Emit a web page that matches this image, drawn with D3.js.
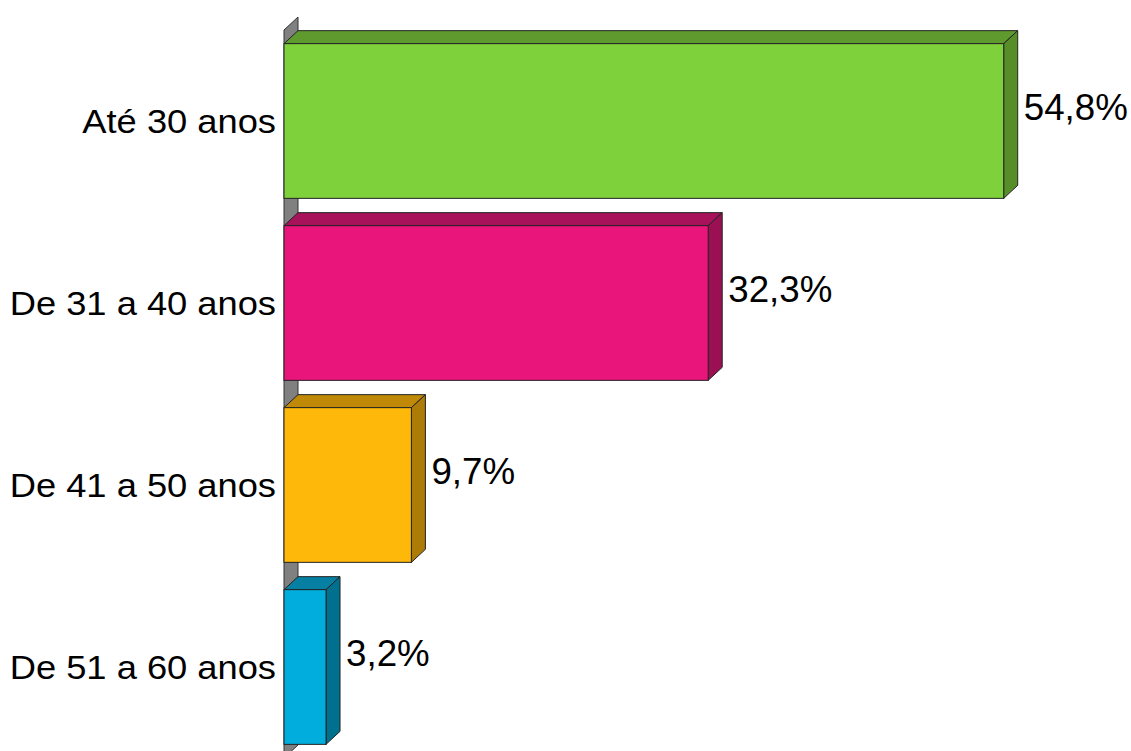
<!DOCTYPE html>
<html>
<head>
<meta charset="utf-8">
<script src="https://cdn.jsdelivr.net/npm/d3@7/dist/d3.min.js"></script>
<style>
html,body{margin:0;padding:0;background:#fff;}
svg{display:block;}
</style>
</head>
<body>
<svg id="chart" width="1131" height="751"></svg>
<script>
const categories = ["Até 30 anos", "De 31 a 40 anos", "De 41 a 50 anos", "De 51 a 60 anos"];
const values = [54.8, 32.3, 9.7, 3.2];
const valueLabels = ["54,8%", "32,3%", "9,7%", "3,2%"];
const frontColors = ["#7FD13B", "#EA157A", "#FEB80A", "#00ADDC"];
const topColors = ["#5F9A2E", "#A8125A", "#C08A08", "#0580A2"];
const sideColors = ["#588E2A", "#9A1053", "#AD7C06", "#00708F"];

const svg = d3.select("#chart");
const dx = 14, dy = 13;

const x = d3.scaleLinear().domain([0, 60]).range([284, 1072]);
const y = d3.scaleBand().domain(categories).range([30, 758]).paddingInner(0.15).paddingOuter(0.075);

const x0 = x(0);
const [yTop, yBot] = y.range();

// side wall
svg.append("polygon")
  .attr("points", [[x0, yTop], [x0 + dx, yTop - dy], [x0 + dx, yBot - dy], [x0, yBot]].map(p => p.join(",")).join(" "))
  .attr("fill", "#808080").attr("stroke", "#333").attr("stroke-width", 1);

const data = categories.map((c, i) => ({c, v: values[i], lab: valueLabels[i], i}));

const g = svg.selectAll("g.bar").data(data).enter().append("g").attr("class", "bar");

const pts = a => a.map(p => p.join(",")).join(" ");

g.append("polygon")
  .attr("points", d => {
    const x1 = x(d.v), y0 = y(d.c);
    return pts([[x0, y0], [x0 + dx, y0 - dy], [x1 + dx, y0 - dy], [x1, y0]]);
  })
  .attr("fill", d => topColors[d.i]).attr("stroke", "#222").attr("stroke-width", 1).attr("stroke-linejoin", "round");

g.append("polygon")
  .attr("points", d => {
    const x1 = x(d.v), y0 = y(d.c), y1 = y0 + y.bandwidth();
    return pts([[x1, y0], [x1 + dx, y0 - dy], [x1 + dx, y1 - dy], [x1, y1]]);
  })
  .attr("fill", d => sideColors[d.i]).attr("stroke", "#222").attr("stroke-width", 1).attr("stroke-linejoin", "round");

g.append("rect")
  .attr("x", x0).attr("y", d => y(d.c))
  .attr("width", d => x(d.v) - x0).attr("height", y.bandwidth())
  .attr("fill", d => frontColors[d.i]).attr("stroke", "#222").attr("stroke-width", 1);

g.append("text")
  .attr("transform", d => `translate(${x(d.v) + dx + 6},${y(d.c) + y.bandwidth() / 2 - dy}) scale(1.02,1)`)
  .attr("dy", "0.34em")
  .attr("font-family", "'Liberation Sans', Arial, sans-serif")
  .attr("font-size", 36)
  .attr("fill", "#000")
  .text(d => d.lab);

// category labels
svg.selectAll("text.cat").data(categories).enter().append("text")
  .attr("class", "cat")
  .attr("transform", d => `translate(${x0 - 8},${y(d) + y.bandwidth() / 2}) scale(1.1,1)`)
  .attr("dy", "0.36em")
  .attr("text-anchor", "end")
  .attr("font-family", "'Liberation Sans', Arial, sans-serif")
  .attr("font-size", 33)
  .attr("fill", "#000")
  .text(d => d);
</script>
</body>
</html>
